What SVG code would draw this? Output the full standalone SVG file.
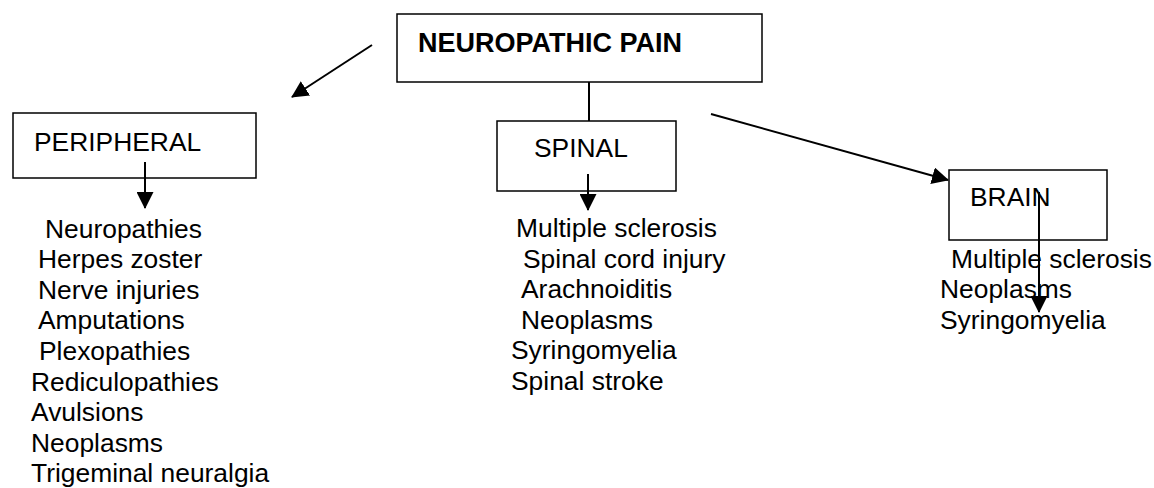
<svg xmlns="http://www.w3.org/2000/svg" width="1154" height="488" viewBox="0 0 1154 488">
<defs>
<style>
.box{fill:#fff;stroke:#000;stroke-width:1.5}
.t{font-family:"Liberation Sans",Arial,sans-serif;font-size:26.4px;fill:#000}
.b{font-weight:bold;font-size:27px}
.c{stroke:#000;stroke-width:2;fill:none}
.a{marker-end:url(#ah)}
</style>
<marker id="ah" markerUnits="userSpaceOnUse" markerWidth="17" markerHeight="17" viewBox="0 0 17 17" refX="16" refY="8.5" orient="auto">
<path d="M0,0 L17,8.5 L0,17 z" fill="#000"/>
</marker>
</defs>
<rect width="1154" height="488" fill="#fff"/>
<g id="connectors">
<line class="c a" x1="372" y1="45" x2="292" y2="97"/>
<line class="c" x1="589" y1="78" x2="589" y2="121"/>
<line class="c a" x1="711" y1="114" x2="948" y2="180"/>
</g>
<g id="neuropathic-pain">
<rect class="box" x="397" y="14" width="365" height="68"/>
<text class="t b" x="418" y="52">NEUROPATHIC PAIN</text>
</g>
<g id="peripheral">
<rect class="box" x="13" y="113" width="243" height="65"/>
<text class="t" x="34" y="151">PERIPHERAL</text>
</g>
<g id="spinal">
<rect class="box" x="497" y="121" width="179" height="70"/>
<text class="t" x="534" y="157">SPINAL</text>
</g>
<g id="brain">
<rect class="box" x="949" y="170" width="158" height="70"/>
<text class="t" x="970" y="206">BRAIN</text>
</g>
<g id="peripheral-list">
<text class="t" x="45" y="238">Neuropathies</text>
<text class="t" x="38" y="268">Herpes zoster</text>
<text class="t" x="38" y="299">Nerve injuries</text>
<text class="t" x="38" y="329">Amputations</text>
<text class="t" x="39" y="360">Plexopathies</text>
<text class="t" x="31" y="391">Rediculopathies</text>
<text class="t" x="31" y="421">Avulsions</text>
<text class="t" x="31" y="452">Neoplasms</text>
<text class="t" x="31" y="482">Trigeminal neuralgia</text>
</g>
<g id="spinal-list">
<text class="t" x="516" y="237">Multiple sclerosis</text>
<text class="t" x="523" y="268">Spinal cord injury</text>
<text class="t" x="521" y="298">Arachnoiditis</text>
<text class="t" x="521" y="329">Neoplasms</text>
<text class="t" x="511" y="359">Syringomyelia</text>
<text class="t" x="511" y="390">Spinal stroke</text>
</g>
<g id="brain-list">
<text class="t" x="951" y="268">Multiple sclerosis</text>
<text class="t" x="940" y="298">Neoplasms</text>
<text class="t" x="940" y="329">Syringomyelia</text>
</g>
<g id="connectors-down">
<line class="c a" x1="145" y1="162" x2="145" y2="208"/>
<line class="c a" x1="588" y1="174" x2="588" y2="210"/>
<line class="c a" x1="1039" y1="192" x2="1039" y2="312"/>
</g>
</svg>
